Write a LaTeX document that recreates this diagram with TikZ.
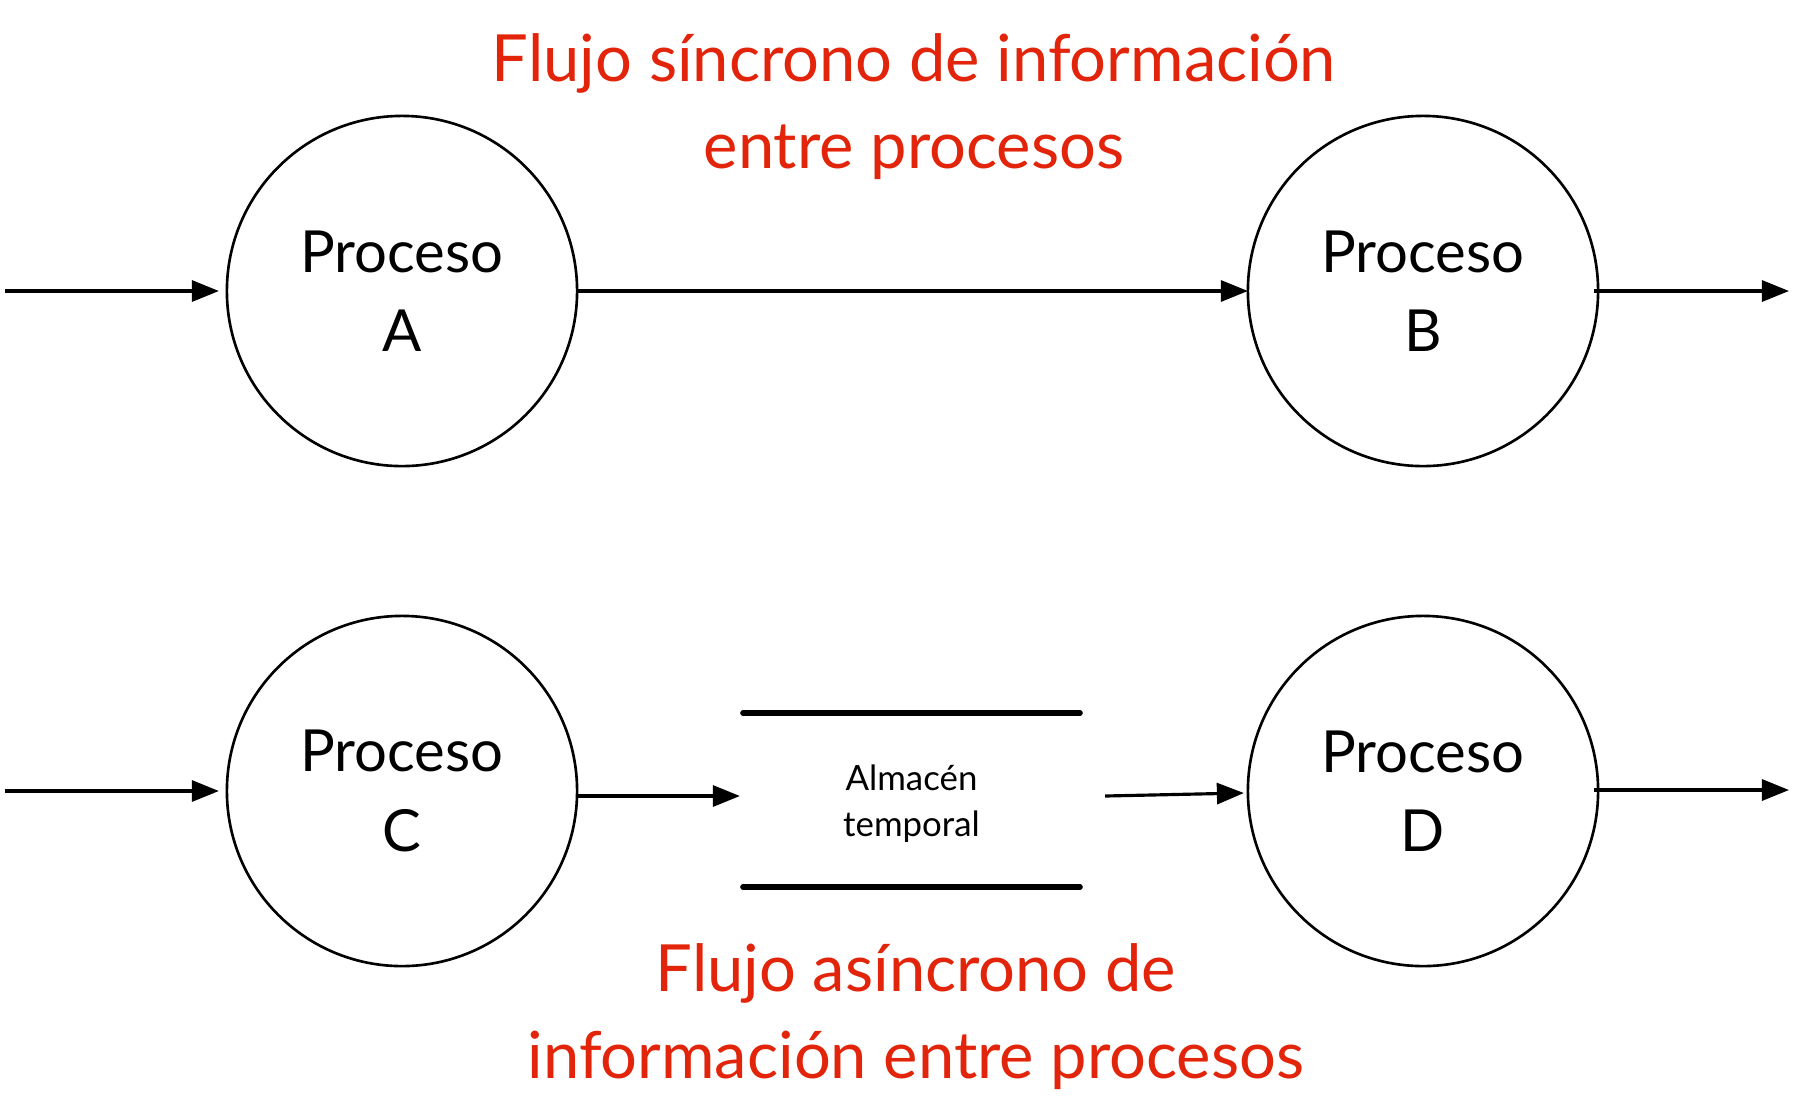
\documentclass[tikz,border=0pt]{standalone}
\usepackage{fontspec}
\setmainfont{Lato}
\usetikzlibrary{arrows.meta}
\definecolor{titlered}{RGB}{226,36,10}
\begin{document}
\begin{tikzpicture}[x=0.01cm,y=-0.01cm,
  proc/.style={circle,draw,line width=0.75pt,minimum size=3.5cm,inner sep=0pt,outer sep=0pt,align=center,font=\fontsize{16.5}{22.6}\selectfont},
  arr/.style={line width=0.9pt,-{Triangle[length=0.27cm,width=0.21cm]}},
  title/.style={text=titlered,align=center,font=\fontsize{18.5}{24.5}\selectfont},
  storebox/.style={minimum width=3.37cm,minimum height=1.74cm,inner sep=0pt,outer sep=0pt,align=center,font=\fontsize{9.9}{13.1}\selectfont},
  storeline/.style={line width=1.55pt,line cap=round}]
\useasboundingbox (0,0) rectangle (1799,1117);
\node[title,anchor=base] (T1) at (914,168) {Flujo síncrono de información\\entre procesos};
\node[title,anchor=base] (T2) at (916,1078) {Flujo asíncrono de\\información entre procesos};
\node[proc] (A) at (402,291) {Proceso\\A};
\node[proc] (B) at (1423,291) {Proceso\\B};
\node[proc] (C) at (402,791) {Proceso\\C};
\node[proc] (D) at (1423,791) {Proceso\\D};
\node[storebox] (S) at (911.5,804) {Almacén\\temporal};
\draw[storeline] ([shift={(0,-4)}]S.north west) -- ([shift={(0,-4)}]S.north east);
\draw[storeline] ([shift={(0,-4)}]S.south west) -- ([shift={(0,-4)}]S.south east);
\coordinate (inA) at (5,291);
\coordinate (outB) at (1789,291);
\coordinate (inC) at (5,791);
\coordinate (outD) at (1789,790);
\draw[arr] (inA) -- ([shift={(-8,0)}]A.west);
\draw[arr] (A) -- (B);
\draw[arr] ([shift={(-4,0)}]B.east) -- (outB);
\draw[arr] (inC) -- ([shift={(-8,0)}]C.west);
\draw[arr] ([shift={(0,5)}]C.east) -- ([shift={(-3,-8)}]S.west);
\draw[arr] ([shift={(25,-8)}]S.east) -- ([shift={(-4,2)}]D.west);
\draw[arr] ([shift={(-4,-1)}]D.east) -- (outD);
\end{tikzpicture}
\end{document}
